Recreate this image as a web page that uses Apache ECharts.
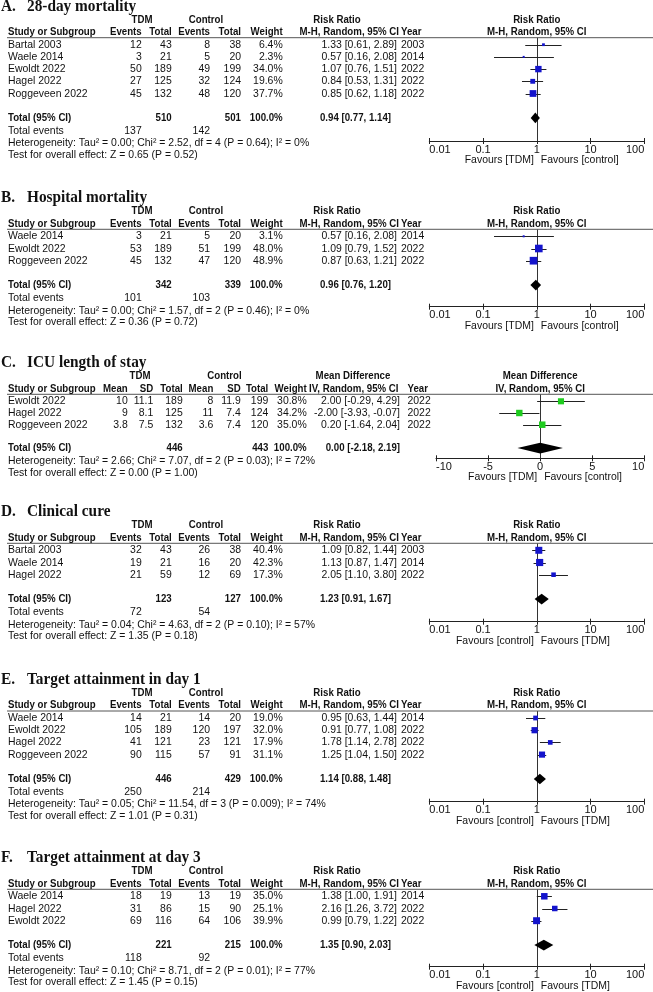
<!DOCTYPE html>
<html><head><meta charset="utf-8">
<script src="https://cdn.jsdelivr.net/npm/echarts@6/dist/echarts.min.js"></script>
<style>html,body{margin:0;padding:0;background:#fff}#c{width:653px;height:992px}</style>
</head><body><div id="c"></div>
<script>
// ================= DATA =================
const ticksRR = ['0.01', '0.1', '1', '10', '100'];
const ticksMD = ['-10', '-5', '0', '5', '10'];

// A. 28-day mortality
const titleA = '28-day mortality';
const studiesA = ['Bartal 2003', 'Waele 2014', 'Ewoldt 2022', 'Hagel 2022', 'Roggeveen 2022'];
const tdmEventsA = [12, 3, 50, 27, 45];
const tdmTotalA = [43, 21, 189, 125, 132];
const ctlEventsA = [8, 5, 49, 32, 48];
const ctlTotalA = [38, 20, 199, 124, 120];
const weightA = [6.4, 2.3, 34.0, 19.6, 37.7];
const rrA = [1.33, 0.57, 1.07, 0.84, 0.85];
const loA = [0.61, 0.16, 0.76, 0.53, 0.62];
const hiA = [2.89, 2.08, 1.51, 1.31, 1.18];
const yearA = [2003, 2014, 2022, 2022, 2022];
const totNA = [510, 501];
const totEstA = [0.94, 0.77, 1.14];
const totEventsA = [137, 142];
const hetA = 'Heterogeneity: Tau² = 0.00; Chi² = 2.52, df = 4 (P = 0.64); I² = 0%';
const testA = 'Test for overall effect: Z = 0.65 (P = 0.52)';
const favA = ['Favours [TDM]', 'Favours [control]'];

// B. Hospital mortality
const titleB = 'Hospital mortality';
const studiesB = ['Waele 2014', 'Ewoldt 2022', 'Roggeveen 2022'];
const tdmEventsB = [3, 53, 45];
const tdmTotalB = [21, 189, 132];
const ctlEventsB = [5, 51, 47];
const ctlTotalB = [20, 199, 120];
const weightB = [3.1, 48.0, 48.9];
const rrB = [0.57, 1.09, 0.87];
const loB = [0.16, 0.79, 0.63];
const hiB = [2.08, 1.52, 1.21];
const yearB = [2014, 2022, 2022];
const totNB = [342, 339];
const totEstB = [0.96, 0.76, 1.20];
const totEventsB = [101, 103];
const hetB = 'Heterogeneity: Tau² = 0.00; Chi² = 1.57, df = 2 (P = 0.46); I² = 0%';
const testB = 'Test for overall effect: Z = 0.36 (P = 0.72)';
const favB = ['Favours [TDM]', 'Favours [control]'];

// C. ICU length of stay
const titleC = 'ICU length of stay';
const studiesC = ['Ewoldt 2022', 'Hagel 2022', 'Roggeveen 2022'];
const tdmMeanC = ['10', '9', '3.8'];
const tdmSDC = ['11.1', '8.1', '7.5'];
const tdmTotalC = [189, 125, 132];
const ctlMeanC = ['8', '11', '3.6'];
const ctlSDC = ['11.9', '7.4', '7.4'];
const ctlTotalC = [199, 124, 120];
const weightC = [30.8, 34.2, 35.0];
const mdC = [2.00, -2.00, 0.20];
const loC = [-0.29, -3.93, -1.64];
const hiC = [4.29, -0.07, 2.04];
const yearC = [2022, 2022, 2022];
const totNC = [446, 443];
const totEstC = [0.00, -2.18, 2.19];
const hetC = 'Heterogeneity: Tau² = 2.66; Chi² = 7.07, df = 2 (P = 0.03); I² = 72%';
const testC = 'Test for overall effect: Z = 0.00 (P = 1.00)';
const favC = ['Favours [TDM]', 'Favours [control]'];

// D. Clinical cure
const titleD = 'Clinical cure';
const studiesD = ['Bartal 2003', 'Waele 2014', 'Hagel 2022'];
const tdmEventsD = [32, 19, 21];
const tdmTotalD = [43, 21, 59];
const ctlEventsD = [26, 16, 12];
const ctlTotalD = [38, 20, 69];
const weightD = [40.4, 42.3, 17.3];
const rrD = [1.09, 1.13, 2.05];
const loD = [0.82, 0.87, 1.10];
const hiD = [1.44, 1.47, 3.80];
const yearD = [2003, 2014, 2022];
const totND = [123, 127];
const totEstD = [1.23, 0.91, 1.67];
const totEventsD = [72, 54];
const hetD = 'Heterogeneity: Tau² = 0.04; Chi² = 4.63, df = 2 (P = 0.10); I² = 57%';
const testD = 'Test for overall effect: Z = 1.35 (P = 0.18)';
const favD = ['Favours [control]', 'Favours [TDM]'];

// E. Target attainment in day 1
const titleE = 'Target attainment in day 1';
const studiesE = ['Waele 2014', 'Ewoldt 2022', 'Hagel 2022', 'Roggeveen 2022'];
const tdmEventsE = [14, 105, 41, 90];
const tdmTotalE = [21, 189, 121, 115];
const ctlEventsE = [14, 120, 23, 57];
const ctlTotalE = [20, 197, 121, 91];
const weightE = [19.0, 32.0, 17.9, 31.1];
const rrE = [0.95, 0.91, 1.78, 1.25];
const loE = [0.63, 0.77, 1.14, 1.04];
const hiE = [1.44, 1.08, 2.78, 1.50];
const yearE = [2014, 2022, 2022, 2022];
const totNE = [446, 429];
const totEstE = [1.14, 0.88, 1.48];
const totEventsE = [250, 214];
const hetE = 'Heterogeneity: Tau² = 0.05; Chi² = 11.54, df = 3 (P = 0.009); I² = 74%';
const testE = 'Test for overall effect: Z = 1.01 (P = 0.31)';
const favE = ['Favours [control]', 'Favours [TDM]'];

// F. Target attainment at day 3
const titleF = 'Target attainment at day 3';
const studiesF = ['Waele 2014', 'Hagel 2022', 'Ewoldt 2022'];
const tdmEventsF = [18, 31, 69];
const tdmTotalF = [19, 86, 116];
const ctlEventsF = [13, 15, 64];
const ctlTotalF = [19, 90, 106];
const weightF = [35.0, 25.1, 39.9];
const rrF = [1.38, 2.16, 0.99];
const loF = [1.00, 1.26, 0.79];
const hiF = [1.91, 3.72, 1.22];
const yearF = [2014, 2022, 2022];
const totNF = [221, 215];
const totEstF = [1.35, 0.90, 2.03];
const totEventsF = [118, 92];
const hetF = 'Heterogeneity: Tau² = 0.10; Chi² = 8.71, df = 2 (P = 0.01); I² = 77%';
const testF = 'Test for overall effect: Z = 1.45 (P = 0.15)';
const favF = ['Favours [control]', 'Favours [TDM]'];

// ================= PANEL ASSEMBLY =================
const panels = [
  { letter: 'A.', title: titleA, kind: 'RR', studies: studiesA, c: [tdmEventsA, tdmTotalA, ctlEventsA, ctlTotalA], w: weightA, est: rrA, lo: loA, hi: hiA, year: yearA, totN: totNA, tot: totEstA, ev: totEventsA, het: hetA, test: testA, fav: favA },
  { letter: 'B.', title: titleB, kind: 'RR', studies: studiesB, c: [tdmEventsB, tdmTotalB, ctlEventsB, ctlTotalB], w: weightB, est: rrB, lo: loB, hi: hiB, year: yearB, totN: totNB, tot: totEstB, ev: totEventsB, het: hetB, test: testB, fav: favB },
  { letter: 'C.', title: titleC, kind: 'MD', studies: studiesC, c: [tdmMeanC, tdmSDC, tdmTotalC, ctlMeanC, ctlSDC, ctlTotalC], w: weightC, est: mdC, lo: loC, hi: hiC, year: yearC, totN: totNC, tot: totEstC, ev: null, het: hetC, test: testC, fav: favC },
  { letter: 'D.', title: titleD, kind: 'RR', studies: studiesD, c: [tdmEventsD, tdmTotalD, ctlEventsD, ctlTotalD], w: weightD, est: rrD, lo: loD, hi: hiD, year: yearD, totN: totND, tot: totEstD, ev: totEventsD, het: hetD, test: testD, fav: favD },
  { letter: 'E.', title: titleE, kind: 'RR', studies: studiesE, c: [tdmEventsE, tdmTotalE, ctlEventsE, ctlTotalE], w: weightE, est: rrE, lo: loE, hi: hiE, year: yearE, totN: totNE, tot: totEstE, ev: totEventsE, het: hetE, test: testE, fav: favE },
  { letter: 'F.', title: titleF, kind: 'RR', studies: studiesF, c: [tdmEventsF, tdmTotalF, ctlEventsF, ctlTotalF], w: weightF, est: rrF, lo: loF, hi: hiF, year: yearF, totN: totNF, tot: totEstF, ev: totEventsF, het: hetF, test: testF, fav: favF }
];

// ================= LAYOUT (pixels) =================
const layout = [
  { lineY: 37.7, axisY: 141, rowH: 12.2 },
  { lineY: 229.3, axisY: 306.7, rowH: 12.2 },
  { lineY: 394.3, axisY: 458.3, rowH: 11.7 },
  { lineY: 543.3, axisY: 621.7, rowH: 12.2 },
  { lineY: 711, axisY: 801.7, rowH: 12.2 },
  { lineY: 889.3, axisY: 966.7, rowH: 12.2 }
];
const ROW0 = 7;
const plotRR = { left: 429.3, right: 644.3 };
const plotMD = { left: 436, right: 644.3 };
const colsRR = { h1: [142, 206, 337], num: [141.7, 171.7, 210, 241], wt: 282.7, ci: 397, ciH: 399, year: 401 };
const colsMD = { h1: [140, 224.5, 353], num: [127.7, 153.3, 182.7, 213.3, 240.7, 268.3], wt: 306.7, ci: 400, ciH: 398.5, year: 407.5 };

const FONT = '"Liberation Sans", Arial, sans-serif';
const SERIF = '"Liberation Serif", "Times New Roman", serif';
const BLUE = '#1414cc';
const GREEN = '#1fcc1f';

function T(x, y, s, o) {
  o = o || {};
  const bold = !!o.bold;
  const al = o.align || 'left';
  return {
    type: 'text', x: x, y: y, scaleX: o.sx != null ? o.sx : (bold ? 0.88 : 0.95),
    silent: true, z: 10,
    style: {
      text: String(s), fill: '#111',
      font: (bold ? 'bold ' : '') + (o.size || 11) + 'px ' + (o.family || FONT),
      textAlign: al, textVerticalAlign: 'middle', align: al, verticalAlign: 'middle'
    }
  };
}

const fmtCI = (e, l, h) => e.toFixed(2) + ' [' + l.toFixed(2) + ', ' + h.toFixed(2) + ']';

const graphics = [];
const grids = [], xAxes = [], yAxes = [], series = [];

panels.forEach((p, g) => {
  const L = layout[g];
  const isRR = p.kind === 'RR';
  const cols = isRR ? colsRR : colsMD;
  const plot = isRR ? plotRR : plotMD;
  const n = p.studies.length;
  const rowY = i => L.lineY + ROW0 + i * L.rowH;
  const totY = rowY(n + 1);
  const evY = totY + 13.2;
  const hetY = (p.ev ? evY : totY + 0.5) + 12.2;
  const testY = hetY + 11.7;
  const refX = (plot.left + plot.right) / 2;

  // Title
  graphics.push(T(1, L.lineY - 31.5, p.letter, { bold: true, size: 17, family: SERIF, sx: 0.9 }));
  graphics.push(T(27, L.lineY - 31.5, p.title, { bold: true, size: 17, family: SERIF, sx: 0.9 }));

  // Header rule
  graphics.push({ type: 'line', silent: true, z: 5, shape: { x1: 7, y1: L.lineY, x2: 653, y2: L.lineY }, style: { stroke: '#555', lineWidth: 1 } });

  // Header row 1
  const h1 = L.lineY - 18, h2 = L.lineY - 5.7;
  graphics.push(T(cols.h1[0], h1, 'TDM', { bold: true, align: 'center' }));
  graphics.push(T(cols.h1[1], h1, 'Control', { bold: true, align: 'center' }));
  graphics.push(T(cols.h1[2], h1, isRR ? 'Risk Ratio' : 'Mean Difference', { bold: true, align: 'center' }));
  graphics.push(T(refX, h1, isRR ? 'Risk Ratio' : 'Mean Difference', { bold: true, align: 'center' }));
  // Header row 2
  const ciLabel = isRR ? 'M-H, Random, 95% CI' : 'IV, Random, 95% CI';
  graphics.push(T(8, h2, 'Study or Subgroup', { bold: true }));
  const h2labels = isRR ? ['Events', 'Total', 'Events', 'Total'] : ['Mean', 'SD', 'Total', 'Mean', 'SD', 'Total'];
  h2labels.forEach((s, k) => graphics.push(T(cols.num[k], h2, s, { bold: true, align: 'right' })));
  graphics.push(T(cols.wt, h2, 'Weight', { bold: true, align: 'right' }));
  graphics.push(T(cols.ciH, h2, ciLabel, { bold: true, align: 'right' }));
  graphics.push(T(cols.year, h2, 'Year', { bold: true }));
  graphics.push(T(refX, h2, ciLabel, { bold: true, align: 'center' }));

  // Study rows
  p.studies.forEach((s, i) => {
    const y = rowY(i);
    graphics.push(T(8, y, s));
    p.c.forEach((arr, k) => graphics.push(T(cols.num[k], y, arr[i], { align: 'right' })));
    graphics.push(T(cols.wt, y, p.w[i].toFixed(1) + '%', { align: 'right' }));
    graphics.push(T(cols.ci, y, fmtCI(p.est[i], p.lo[i], p.hi[i]), { align: 'right' }));
    graphics.push(T(cols.year, y, p.year[i]));
  });

  // Total row
  const totCols = isRR ? [cols.num[1], cols.num[3]] : [cols.num[2], cols.num[5]];
  graphics.push(T(8, totY, 'Total (95% CI)', { bold: true }));
  graphics.push(T(totCols[0], totY, p.totN[0], { bold: true, align: 'right' }));
  graphics.push(T(totCols[1], totY, p.totN[1], { bold: true, align: 'right' }));
  graphics.push(T(cols.wt, totY, '100.0%', { bold: true, align: 'right' }));
  graphics.push(T(isRR ? cols.ci - 6 : cols.ci, totY, fmtCI(p.tot[0], p.tot[1], p.tot[2]), { bold: true, align: 'right' }));

  if (p.ev) {
    graphics.push(T(8, evY, 'Total events'));
    graphics.push(T(cols.num[0], evY, p.ev[0], { align: 'right' }));
    graphics.push(T(cols.num[2], evY, p.ev[1], { align: 'right' }));
  }
  graphics.push(T(8, hetY, p.het));
  graphics.push(T(8, testY, p.test));

  // Favours labels
  graphics.push(T(refX - 3, L.axisY + 19, p.fav[0], { align: 'right' }));
  graphics.push(T(refX + 4, L.axisY + 19, p.fav[1]));

  // ---- Chart coordinate system ----
  grids.push({ left: plot.left, width: plot.right - plot.left, top: L.lineY, height: L.axisY - L.lineY, containLabel: false });
  const ticks = isRR ? ticksRR : ticksMD;
  const baseAxis = isRR
    ? { type: 'log', logBase: 10, min: 0.01, max: 100 }
    : { type: 'value', min: -10, max: 10, interval: 5 };
  xAxes.push(Object.assign({}, baseAxis, {
    gridIndex: g, position: 'bottom',
    axisLine: { show: true, onZero: false, lineStyle: { color: '#222', width: 1 } },
    axisTick: { show: true, length: 3, lineStyle: { color: '#222', width: 1 } },
    splitLine: { show: false },
    axisLabel: {
      show: true, margin: 3, fontSize: 11, color: '#111', fontFamily: FONT,
      alignMinLabel: 'left', alignMaxLabel: 'right',
      formatter: isRR
        ? (v => ticks[Math.round(Math.log10(v)) + 2])
        : (v => ticks[Math.round(v / 5) + 2])
    }
  }));
  xAxes.push(Object.assign({}, baseAxis, {
    gridIndex: g, position: 'bottom',
    axisLine: { show: false, onZero: false },
    axisTick: { show: true, inside: true, length: 3, lineStyle: { color: '#222', width: 1 } },
    splitLine: { show: false }, axisLabel: { show: false }
  }));
  yAxes.push({
    gridIndex: g, type: 'value', inverse: true, show: false,
    min: -ROW0 / L.rowH, max: (L.axisY - L.lineY - ROW0) / L.rowH,
    splitLine: { show: false }
  });

  const xi = 2 * g;
  const refVal = isRR ? 1 : 0;
  // vertical line of no effect
  series.push({
    type: 'custom', xAxisIndex: xi, yAxisIndex: g, silent: true, z: 1, clip: false,
    data: [[refVal, 0]],
    renderItem: (params, api) => {
      const cs = params.coordSys;
      const x = Math.round(api.coord([api.value(0), 0])[0]) + 0.5;
      return { type: 'line', shape: { x1: x, y1: cs.y, x2: x, y2: cs.y + cs.height }, style: { stroke: '#333', lineWidth: 1 } };
    }
  });
  // confidence intervals
  series.push({
    type: 'custom', xAxisIndex: xi, yAxisIndex: g, silent: true, z: 2, clip: false,
    data: p.lo.map((l, i) => [l, p.hi[i], i]),
    encode: { x: [0, 1], y: 2 },
    renderItem: (params, api) => {
      const a = api.coord([api.value(0), api.value(2)]);
      const b = api.coord([api.value(1), api.value(2)]);
      const y = Math.round(a[1]) + 0.5;
      return { type: 'line', shape: { x1: a[0], y1: y, x2: b[0], y2: y }, style: { stroke: '#222', lineWidth: 1 } };
    }
  });
  // study point estimates (square area ~ weight)
  series.push({
    type: 'scatter', xAxisIndex: xi, yAxisIndex: g, silent: true, z: 3,
    symbol: 'rect',
    data: p.est.map((e, i) => [e, i, p.w[i]]),
    symbolSize: v => Math.max(2, 1.1 * Math.sqrt(v[2])),
    itemStyle: { color: isRR ? BLUE : GREEN, opacity: 1 }
  });
  // pooled diamond
  series.push({
    type: 'custom', xAxisIndex: xi, yAxisIndex: g, silent: true, z: 4, clip: false,
    data: [[p.tot[1], p.tot[0], p.tot[2], n + 1]],
    encode: { x: [0, 1, 2], y: 3 },
    renderItem: (params, api) => {
      const r = api.value(3);
      const a = api.coord([api.value(0), r]);
      const m = api.coord([api.value(1), r]);
      const b = api.coord([api.value(2), r]);
      const h = 5.3;
      return { type: 'polygon', shape: { points: [[a[0], a[1]], [m[0], m[1] - h], [b[0], b[1]], [m[0], m[1] + h]] }, style: { fill: '#000' } };
    }
  });
});

const chart = echarts.init(document.getElementById('c'), null, { renderer: 'canvas', width: 653, height: 992 });
chart.setOption({
  animation: false,
  backgroundColor: '#fff',
  grid: grids,
  xAxis: xAxes,
  yAxis: yAxes,
  series: series,
  graphic: { elements: graphics }
});
</script>
</body></html>
